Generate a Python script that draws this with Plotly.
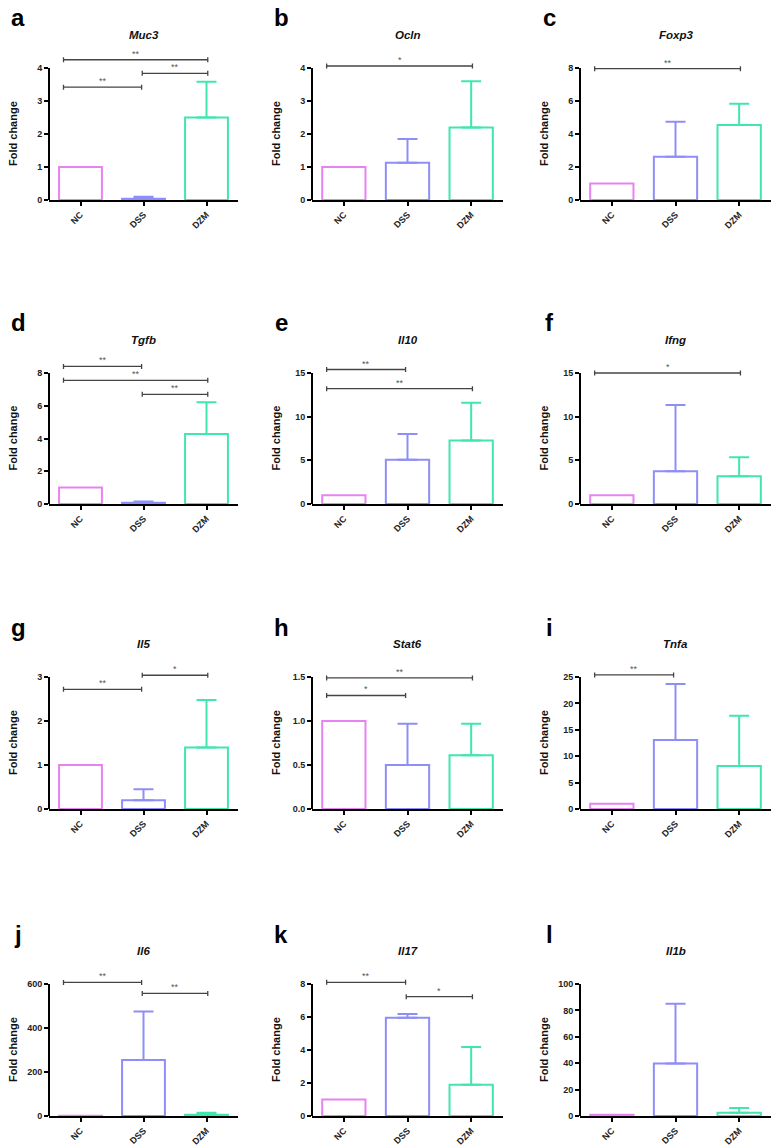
import plotly.graph_objects as go
from plotly.subplots import make_subplots

groups = ["NC", "DSS", "DZM"]
colors = ["#E882F2", "#8E8EF8", "#40E6AC"]
letters = ["a", "b", "c", "d", "e", "f", "g", "h", "i", "j", "k", "l"]
genes = ["Muc3", "Ocln", "Foxp3", "Tgfb", "Il10", "Ifng",
         "Il5", "Stat6", "Tnfa", "Il6", "Il17", "Il1b"]

# mean fold change per group (NC, DSS, DZM)
means = [
    [1.0, 0.04, 2.5],
    [1.0, 1.13, 2.2],
    [1.0, 2.62, 4.54],
    [1.0, 0.08, 4.27],
    [1.0, 5.06, 7.26],
    [1.0, 3.76, 3.19],
    [1.0, 0.2, 1.4],
    [1.0, 0.5, 0.61],
    [1.0, 13.07, 8.14],
    [1.0, 254.5, 6.0],
    [1.0, 5.96, 1.9],
    [1.0, 39.75, 2.5],
]
# upper error (SD)
errors = [
    [0, 0.06, 1.08],
    [0, 0.72, 1.4],
    [0, 2.12, 1.29],
    [0, 0.08, 1.94],
    [0, 2.96, 4.34],
    [0, 7.57, 2.17],
    [0, 0.25, 1.08],
    [0, 0.47, 0.36],
    [0, 10.6, 9.54],
    [0, 221.0, 9.0],
    [0, 0.22, 2.28],
    [0, 45.25, 3.5],
]
y_tops = [4, 4, 8, 8, 15, 15, 3, 1.5, 25, 600, 8, 100]
y_steps = [1, 1, 2, 2, 5, 5, 1, 0.5, 5, 200, 2, 20]

# significance brackets: (from group, to group, height, label)
brackets = [
    [(0, 2, 4.25, "**"), (0, 1, 3.42, "**"), (1, 2, 3.84, "**")],
    [(0, 2, 4.06, "*")],
    [(0, 2, 7.96, "**")],
    [(0, 1, 8.4, "**"), (0, 2, 7.55, "**"), (1, 2, 6.7, "**")],
    [(0, 1, 15.4, "**"), (0, 2, 13.2, "**")],
    [(0, 2, 15.0, "*")],
    [(0, 1, 2.72, "**"), (1, 2, 3.04, "*")],
    [(0, 2, 1.49, "**"), (0, 1, 1.29, "*")],
    [(0, 1, 25.4, "**")],
    [(0, 1, 607, "**"), (1, 2, 557, "**")],
    [(0, 1, 8.1, "**"), (1, 2, 7.23, "*")],
    [],
]

W, H = 783, 1148
col_px = [(49, 238), (312, 503), (580, 771)]
row_px = [(200, 68), (504, 373), (809, 677), (1116, 984)]  # zero line, top tick
head = 1.12
start_off = {0: -0.27, 1: -0.02}
end_off = {1: -0.03, 2: 0.02}
FONT = "Liberation Sans"

fig = make_subplots(rows=4, cols=3)
annotations = []

for k, gene in enumerate(genes):
    r, c = divmod(k, 3)
    xl, xr = col_px[c]
    zero_px, top_px = row_px[r]
    top = y_tops[k]
    n = "" if k == 0 else str(k + 1)

    for g, grp in enumerate(groups):
        fig.add_trace(go.Bar(
            x=[g], y=[means[k][g]], width=0.68,
            marker=dict(color="white", line=dict(color=colors[g], width=2)),
            error_y=dict(type="data", array=[errors[k][g]], arrayminus=[0],
                         symmetric=False, color=colors[g], thickness=2, width=10,
                         visible=errors[k][g] > 0),
            showlegend=False, hoverinfo="skip"
        ), row=r + 1, col=c + 1)

    # brackets
    d = 2.5 * top / (zero_px - top_px)
    bx, by = [], []
    for (i, j, h, lab) in brackets[k]:
        x0 = i + start_off[i]
        x1 = j + end_off[j]
        bx += [x0, x0, None, x1, x1, None, x0, x1, None]
        by += [h - d, h + d, None, h - d, h + d, None, h, h, None]
        annotations.append(dict(
            x=(x0 + x1) / 2, y=h, xref="x" + n, yref="y" + n, text=lab,
            showarrow=False, yshift=6, font=dict(family=FONT, size=9, color="#555555")
        ))
    if bx:
        fig.add_trace(go.Scatter(
            x=bx, y=by, mode="lines", line=dict(color="#444444", width=1.3),
            showlegend=False, hoverinfo="skip"
        ), row=r + 1, col=c + 1)

    ticks = []
    t = 0
    while t <= top + 1e-9:
        ticks.append(t)
        t += y_steps[k]

    dom_top_px = zero_px - (zero_px - top_px) * head
    fig.update_xaxes(
        domain=[xl / W, xr / W], range=[-0.5, 2.5],
        tickvals=[0, 1, 2], ticktext=groups, tickangle=-45,
        showline=True, linecolor="black", linewidth=2,
        ticks="outside", ticklen=4, tickwidth=1.5, tickcolor="black",
        showgrid=False, zeroline=False, automargin=False,
        tickfont=dict(family=FONT, size=9, color="#222222", weight="bold"),
        row=r + 1, col=c + 1
    )
    fig.update_yaxes(
        domain=[1 - zero_px / H, 1 - dom_top_px / H], range=[0, top * head],
        tickvals=ticks, tickformat=".1f" if y_steps[k] < 1 else "d",
        showline=False, ticks="outside", ticklen=4, tickwidth=1.5, tickcolor="black",
        showgrid=False, zeroline=False, automargin=False,
        tickfont=dict(family=FONT, size=9, color="#222222", weight="bold"),
        row=r + 1, col=c + 1
    )
    fig.add_shape(type="line", xref="x" + n + " domain", x0=0, x1=0,
                  yref="y" + n, y0=0, y1=top, line=dict(color="black", width=2))

    annotations.append(dict(
        x=(xl - 36) / W, y=1 - (zero_px + top_px) / 2 / H, xref="paper", yref="paper",
        text="Fold change", textangle=-90, showarrow=False,
        xanchor="center", yanchor="middle",
        font=dict(family=FONT, size=11, color="#111111", weight="bold")
    ))
    annotations.append(dict(
        x=(xl + xr) / 2 / W, y=1 - (top_px - 33) / H, xref="paper", yref="paper",
        text=gene, showarrow=False, xanchor="center", yanchor="middle",
        font=dict(family=FONT, size=11.5, color="#111111", weight="bold", style="italic")
    ))
    annotations.append(dict(
        x=(xl - 31) / W, y=1 - (top_px - 50) / H, xref="paper", yref="paper",
        text=letters[k], showarrow=False, xanchor="center", yanchor="middle",
        font=dict(family=FONT, size=24, color="black", weight="bold")
    ))

fig.update_layout(
    width=W, height=H, margin=dict(l=0, r=0, t=0, b=0),
    template="none", barmode="overlay",
    paper_bgcolor="white", plot_bgcolor="white",
    annotations=annotations, showlegend=False
)

fig.write_html("out.html", config={"displayModeBar": False},
               post_script="document.body.style.margin = '0';")
